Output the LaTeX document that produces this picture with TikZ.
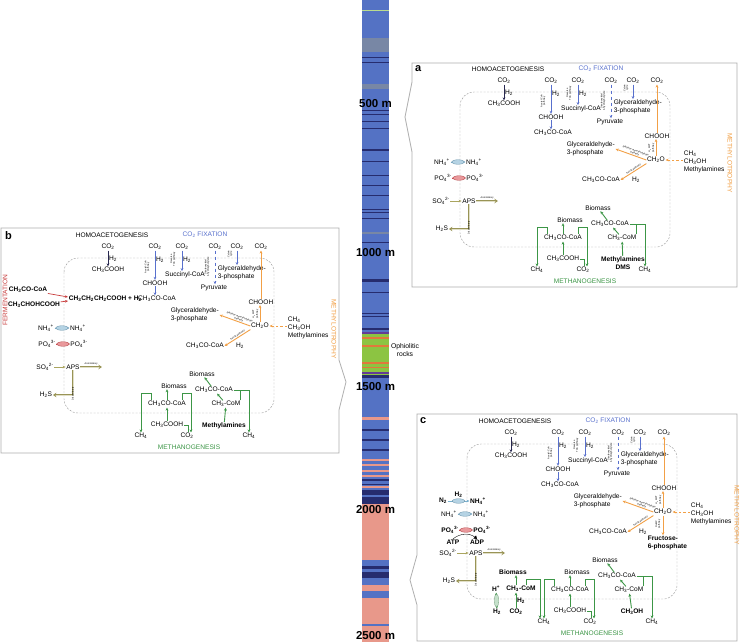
\documentclass[tikz,border=0pt]{standalone}
\usepackage{fontspec}
\setmainfont{Liberation Sans}
\usetikzlibrary{arrows.meta,shapes.geometric}
\newcommand{\dn}[1]{\textsubscript{#1}}
\newcommand{\up}[1]{\textsuperscript{#1}}
\definecolor{fixblue}{RGB}{88,112,205}
\definecolor{homnavy}{RGB}{40,40,80}
\definecolor{metorange}{RGB}{242,160,70}
\definecolor{methgreen}{RGB}{60,150,70}
\definecolor{methpale}{RGB}{150,200,160}
\definecolor{fermred}{RGB}{200,60,60}
\definecolor{sulfolive}{RGB}{170,165,95}
\definecolor{nhblue}{RGB}{120,175,205}
\definecolor{pored}{RGB}{215,70,75}
\definecolor{cellgray}{RGB}{160,160,160}
\definecolor{boxgray}{RGB}{175,175,175}
\definecolor{logblue}{RGB}{84,114,196}
\definecolor{lognavy}{RGB}{38,44,110}
\definecolor{loggray}{RGB}{120,135,165}
\definecolor{loggreen}{RGB}{140,196,66}
\definecolor{logorange}{RGB}{226,120,60}
\definecolor{logpurple}{RGB}{100,60,150}
\definecolor{logsalmon}{RGB}{232,152,138}

% shared cell content, local coordinates of a panel
\newcommand{\cellcore}{%
  \draw[cell] (48,29) rectangle (258,184);
  % homoacetogenesis
  \node[lbl] (homtit) at (96,6) {HOMOACETOGENESIS};
  \node[lbl] (hco2) at (92,18) {CO\dn2};
  \node[lbl] (hacid) at (92,41) {CH\dn3COOH};
  \draw[homarr] (hco2) -- node[lbl, right] (hh2) {H\dn2} (hacid);
  % CO2 fixation
  \node[lbl, text=fixblue] (fixtit) at (189,6) {CO\dn2 FIXATION};
  \node[lbl] (acco2) at (139,18) {CO\dn2};
  \node[lbl] (acfor) at (139,54) {CHOOH};
  \node[lbl] (acacoa) at (141,70) {CH\dn3CO-CoA};
  \draw[fixarr] (acco2) -- node[lbl, right, pos=0.3] (ach2) {H\dn2} (acfor);
  \draw[fixarr] (acfor.south) -- (acfor.south |- acacoa.north);
  \node[tiny, rotate=90] (acpath) at (131,38) {Acetyl-CoA\\pathway};
  \node[lbl] (tcco2) at (166,18) {CO\dn2};
  \node[lbl] (tcsuc) at (169,46) {Succinyl-CoA};
  \draw[fixarr] (tcco2) -- node[lbl, right, pos=0.45] (tch2) {H\dn2} (tcco2 |- tcsuc.north);
  \node[tiny, rotate=90] (tcpath) at (157,30) {Reverse\\TCA pathway};
  \node[lbl] (dcco2) at (199,18) {CO\dn2};
  \node[lbl] (dcpyr) at (198,59) {Pyruvate};
  \draw[fixarr, dashed] (dcco2) -- (dcco2 |- dcpyr.north);
  \node[tiny, rotate=90] (dcpath) at (191,38) {Dicarboxylate/\\4-hydroxybutyrate};
  \node[lbl] (cvco2) at (221,18) {CO\dn2};
  \node[lbl, align=left, anchor=west] (cvgap) at (201,44) {Glyceraldehyde-\\3-phosphate};
  \draw[fixarr] (cvco2) -- (cvco2 |- cvgap.north);
  \node[tiny, rotate=90] (cvpath) at (214,25) {Calvin\\cycle};
  % methylotrophy
  \node[lbl] (mtco2) at (245,18) {CO\dn2};
  \node[lbl] (mtfor) at (245,73) {CHOOH};
  \node[lbl] (mtch2o) at (244,97) {CH\dn2O};
  \draw[metarr] (mtfor) -- (mtco2);
  \draw[metarr] (mtch2o) -- (mtch2o |- mtfor.south);
  \node[tiny, rotate=90] (mtpath) at (239.5,85) {H\dn4MPT\\pathway};
  \node[lbl, align=left, anchor=west] (mtgap) at (154,86) {Glyceraldehyde-\\3-phosphate};
  \draw[metarr] (mtch2o.west) -- node[tiny, sloped, above=0.3pt, pos=0.4] (rump) {Ribulose monophosphate\\pathway} (mtgap.east);
  \node[lbl] (mtacoa) at (189,117) {CH\dn3CO-CoA};
  \draw[metarr] (mtch2o.south west) -- node[tiny, sloped, above=0.3pt, pos=0.45] (serp) {Serine pathway} (mtacoa.east);
  \node[lbl] (mth2) at (224,117) {H\dn2};
  \node[lbl, align=left, anchor=west] (mtsub) at (271,99) {CH\dn4\\CH\dn3OH\\Methylamines};
  \draw[metdash] (mtsub.west |- mtch2o) -- (mtch2o.east);
  \node[lbl, text=metorange, rotate=-90] (mttit) at (318,100) {METHYLOTROPHY};
  % transport and sulfur
  \node[lbl] (nhin) at (30,99) {NH\dn4\up+};
  \node[lbl] (nhout) at (62,99) {NH\dn4\up+};
  \draw[transarr, nhblue] (nhin) -- node[transp=nhblue] (nhpump) {} (nhout);
  \node[lbl, pofont] (poin) at (31,115) {PO\dn4\up{3-}};
  \node[lbl, pofont] (poout) at (63,115) {PO\dn4\up{3-}};
  \draw[transarr, pored] (poin) -- node[transp=pored] (popump) {} (poout);
  \node[lbl] (soin) at (29,138) {SO\dn4\up{2-}};
  \node[lbl] (aps) at (57,138) {APS};
  \draw[sularr] (soin) -- (aps);
  \coordinate (assim) at (86,138);
  \draw[hollowarr] (aps) -- node[tiny, above=1.2pt] (assl) {Assimilatory} (assim);
  \node[lbl] (hs) at (30,166) {H\dn2S};
  \draw[hollowarr] (aps) |- node[tiny, pos=0.3, rotate=90, left=1.2pt] (disl) {Dissimilatory} (hs);
  % methanogenesis
  \node[lbl] (mgbio1) at (186,145) {Biomass};
  \node[lbl] (mgbio2) at (158,157) {Biomass};
  \node[lbl] (mgacoa2) at (198,161) {CH\dn3CO-CoA};
  \node[lbl] (mgacoa1) at (151,175) {CH\dn3CO-CoA};
  \node[lbl] (mgcom) at (210,175) {CH\dn3-CoM};
  \node[lbl] (mgacet) at (151,196) {CH\dn3COOH};
  \node[lbl] (mgch4a) at (125,207) {CH\dn4};
  \node[lbl] (mgco2) at (171,207) {CO\dn2};
  \node[lbl] (mgch4b) at (233,207) {CH\dn4};
  \node[lbl, text=methgreen] (mgtit) at (173,218) {METHANOGENESIS};
  \draw[metharr] (mgacet) -- (mgacoa1);
  \draw[metharr] (mgacoa1) -- (mgacoa1 |- mgbio2.south);
  \draw[metharr] (mgcom) -- (mgacoa2);
  \draw[metharr] (mgacoa2) -- (mgbio1);
  \draw[metharr] ([xshift=4pt]mgacoa1.north west) -- ++(0,-7) -| (mgch4a);
  \draw[metharr] ([xshift=-4pt]mgacoa1.north east) -- ++(0,-7) -| ([xshift=4pt]mgco2.north);
  \draw[methln] (mgacet.east) -| ([xshift=1pt]mgco2.north);
  \draw[metharr] (mgacoa2.east) -| (mgch4b);
  \draw[methln] ([xshift=-1pt]mgcom.north east) -- ([xshift=-1pt]mgcom.north east |- mgacoa2.east);
}

\begin{document}
\begin{tikzpicture}[x=1pt, y=-1pt,
  lbl/.style={font=\fontsize{6.6}{8}\selectfont, inner sep=0.6pt},
  blbl/.style={font=\fontsize{6.6}{8}\selectfont\bfseries, inner sep=0.6pt},
  pofont/.style={},
  tiny/.style={font=\fontsize{2.4}{2.7}\selectfont, inner sep=0.3pt, align=center},
  depth/.style={font=\fontsize{11.5}{12}\selectfont\bfseries, inner sep=0pt},
  tag/.style={font=\fontsize{11}{12}\selectfont\bfseries, anchor=north west, inner sep=0pt},
  panelbox/.style={draw=boxgray, line width=0.8pt},
  cell/.style={draw=cellgray, dash pattern=on 2pt off 1.5pt, line width=0.45pt, rounded corners=14pt},
  homarr/.style={draw=homnavy, line width=0.8pt, -{Stealth[length=3pt,width=2.6pt]}},
  fixarr/.style={draw=fixblue, line width=0.8pt, -{Stealth[length=3pt,width=2.6pt]}},
  metarr/.style={draw=metorange, line width=0.9pt, -{Stealth[length=3pt,width=2.8pt]}},
  metdash/.style={metarr, dash pattern=on 2.5pt off 2pt},
  methln/.style={draw=methgreen, line width=0.9pt},
  metharr/.style={methln, -{Stealth[length=3pt,width=2.8pt]}},
  fermarr/.style={draw=fermred, line width=0.7pt, -{Stealth[length=3pt,width=2.6pt]}},
  sularr/.style={draw=sulfolive, line width=0.7pt, -{Stealth[length=3pt,width=2.6pt]}},
  hollowarr/.style={draw=sulfolive!90!black, double=sulfolive!35, double distance=1pt, line width=0.6pt, -{Stealth[length=3.5pt,width=4.5pt,open]}},
  transarr/.style={line width=0.6pt, -{Stealth[length=2.6pt,width=2.6pt]}},
  transp/.style={ellipse, draw=#1!80!black, fill=#1!55, line width=0.3pt, minimum width=13pt, minimum height=4.5pt, inner sep=0pt},
]
\fill[white] (0,0) rectangle (745,642);
\useasboundingbox (0,0) rectangle (745,642);

% borehole log
\fill[logblue] (362,0) rectangle (389,642);
\fill[loggreen!60!white] (362,10) rectangle (389,11);
\foreach \ya/\yb in {38/52, 84/89, 232/234}
  \fill[loggray] (362,\ya) rectangle (389,\yb);
\foreach \ya/\yb in {57/58.5, 62/63, 110/111.5, 114/115, 121/122, 128/129, 149/150.5, 161/162, 175/176, 185/186, 195/196, 209/210, 212/213, 218/219, 242/243, 279/281.5, 292/293, 313/314, 315.5/316.5, 328/330}
  \fill[lognavy] (362,\ya) rectangle (389,\yb);
% ophiolitic section
\fill[loggreen] (362,332) rectangle (389,375);
\foreach \ya/\yb in {332/334, 372/374}
  \fill[logpurple] (362,\ya) rectangle (389,\yb);
\foreach \ya/\yb in {337/338.5, 345/347, 362/363.5, 367/368}
  \fill[logorange] (362,\ya) rectangle (389,\yb);
\fill[lognavy] (362,375) rectangle (389,378);
% lower section
\foreach \ya/\yb in {417/420, 459/461, 464/466, 470/472, 475/477, 486/488}
  \fill[logsalmon] (362,\ya) rectangle (389,\yb);
\foreach \ya/\yb in {429/431, 439/441, 449/451, 479/481, 484/485, 490/495, 497/504, 566/569, 572/578}
  \fill[lognavy] (362,\ya) rectangle (389,\yb);
\fill[logsalmon] (362,504) rectangle (389,560);
\fill[logsalmon] (362,585) rectangle (389,591);
\fill[logsalmon] (362,598) rectangle (389,642);
\fill[logblue] (362,624) rectangle (389,626);
\foreach \dep/\y in {500/104, 1000/253, 1500/387, 2000/510, 2500/636}
  \node[depth] (depth\dep) at (375.5,\y) {\dep\ m};
\node[lbl, align=center, font=\fontsize{6.8}{8.5}\selectfont] (ophio) at (405,350) {Ophiolitic\\rocks};

% panel a
\draw[panelbox] (412,63) -- (737,63) -- (737,287) -- (412,287) -- (412,152) -- (405,117) -- (412,82) -- cycle;
\node[tag] (taga) at (415,65) {a};
\begin{scope}[shift={(412,63)}, name prefix=a-]
  \cellcore
  \node[blbl, align=center] (mgsub) at (211,200) {Methylamines\\DMS};
  \draw[metharr] (mgsub) -- (mgcom);
\end{scope}

% panel b
\draw[panelbox] (1,228) -- (339,228) -- (339,360) -- (346,382) -- (339,410) -- (339,453) -- (1,453) -- cycle;
\node[tag] (tagb) at (5,231) {b};
\begin{scope}[shift={(16,229)}, name prefix=b-]
  \cellcore
  \node[blbl] (mgsub) at (208,197) {Methylamines};
  \draw[metharr] (mgsub) -- (mgcom);
  % fermentation
  \node[lbl, text=fermred, rotate=90] (fetit) at (-11,71) {FERMENTATION};
  \node[blbl] (feacoa) at (12,61) {CH\dn3CO-CoA};
  \node[blbl] (felac) at (18,76) {CH\dn3CHOHCOOH};
  \node[blbl, anchor=west] (febut) at (52,70) {CH\dn3CH\dn2CH\dn2COOH + H\dn2};
  \draw[fermarr] (feacoa) -- ([yshift=2pt]febut.west);
  \draw[fermarr] (felac) -- ([yshift=-2pt]febut.west);
\end{scope}

% panel c
\draw[panelbox] (417,414) -- (737,414) -- (737,641) -- (417,641) -- (417,605) -- (410,580) -- (417,555) -- cycle;
\node[tag] (tagc) at (420,417) {c};
\begin{scope}[shift={(419,415)}, name prefix=c-, pofont/.style={font=\fontsize{6.6}{8}\selectfont\bfseries}]
  \cellcore
  \node[blbl] (mgsub) at (213,197) {CH\dn3OH};
  \draw[metharr] (mgsub) -- (mgcom);
  % nitrogen fixation and ATP
  \node[blbl] (cn2) at (24,86) {N\dn2};
  \node[blbl] (cnh) at (59,86) {NH\dn4\up+};
  \draw[transarr, nhblue] (cn2) -- node[transp=nhblue] (cnpump) {} node[blbl, text=black, above=2.5pt] (cnh2) {H\dn2} (cnh);
  \node[blbl] (catp) at (34,127) {ATP};
  \node[blbl] (cadp) at (58,127) {ADP};
  \draw[line width=0.4pt, -{Triangle[length=3pt,width=4pt]}] (catp.north) to[bend left=40] (cadp.north);
  % fructose
  \node[blbl, align=left, anchor=west] (cfru) at (228,128) {Fructose-\\6-phosphate};
  \draw[metarr] (mtch2o) -- (mtch2o |- cfru.north);
  \node[tiny, rotate=90] (cfrul) at (239,109) {RuMP\\pathway};
  % hydrogenotrophic branch
  \node[blbl] (cbio) at (94,157) {Biomass};
  \node[blbl] (ccom) at (102,174) {CH\dn3-CoM};
  \node[blbl] (chp) at (77,174) {H\up+};
  \node[blbl] (chh) at (78,197) {H\dn2};
  \node[blbl] (cco2) at (97,197) {CO\dn2};
  \draw[metharr] (cco2) -- node[blbl, right] (ch2l) {H\dn2} (cco2 |- ccom.south);
  \draw[metharr] (ccom.north -| cco2) -- (cco2 |- cbio.south);
  \draw[transarr, methgreen, {Stealth[length=2.6pt,width=2.6pt]}-{Stealth[length=2.6pt,width=2.6pt]}] (chp) -- node[transp=methpale, rotate=90] (chpump) {} (chh);
  \draw[metharr] ([xshift=-10pt]ccom.north east) -- ++(0,-6) -| ([xshift=-4pt]mgch4a.north);
\end{scope}
\end{tikzpicture}
\end{document}
